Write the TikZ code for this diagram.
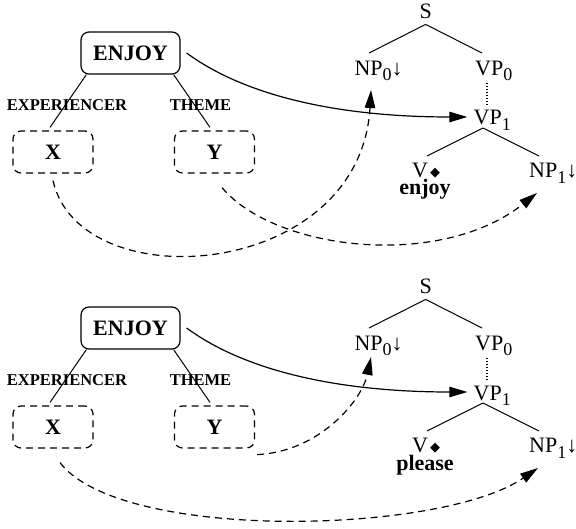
\documentclass[tikz,border=0pt]{standalone}
\usepackage{fontspec}
\setmainfont{Liberation Serif}
\newfontfamily\symfont{DejaVu Sans}
\usetikzlibrary{arrows.meta,calc}

% lowered index digit on a category label
\newcommand\lowidx[1]{\raisebox{-5.5pt}{\fontsize{18}{18}\selectfont #1}}
% anchor marker after the V label
\newcommand\anchormark{\raisebox{1.5pt}{\symfont\fontsize{13}{13}\selectfont ◆}}

\tikzset{
  concept/.style={draw, rounded corners=8pt, line width=1.2pt,
    minimum width=99pt, minimum height=42pt, inner sep=0pt,
    font=\fontsize{22}{26}\selectfont\bfseries},
  slot/.style={concept, dash pattern=on 7pt off 5pt, minimum width=80pt},
  role/.style={inner sep=0pt, font=\fontsize{16.5}{18}\selectfont\bfseries},
  cat/.style={anchor=base west, inner sep=0pt, font=\fontsize{22}{24}\selectfont},
  lexeme/.style={anchor=base, inner sep=0pt, font=\fontsize{22}{24}\selectfont\bfseries},
  branch/.style={line width=1pt},
  link/.style={line width=1.2pt, -{Triangle[length=18pt,width=10.5pt]}},
  maplink/.style={link, dash pattern=on 7pt off 5pt},
}

% semantic frame on the left, elementary tree on the right
% #1: name prefix, #2: anchor word
\newcommand\entrypair[2]{%
  \node[concept] (#1enjoy) at (130.5,53) {ENJOY};
  \node[role] (#1exp) at (67,105.5) {EXPERIENCER};
  \node[role] (#1theme) at (200.5,105.5) {THEME};
  \node[slot] (#1x) at (53,152) {X};
  \node[slot] (#1y) at (214.5,152) {Y};
  \draw[branch] ($(#1enjoy.south west)+(6,0)$) -- ($(#1x.north)+(-3,-3)$);
  \draw[branch] ($(#1enjoy.south east)+(-7,0)$) -- ($(#1y.north)+(-4.5,-3)$);
  \node[cat] (#1S) at (419.3,18.3) {S};
  \node[cat] (#1NPa) at (354.3,75.5) {NP\lowidx{0}↓};
  \node[cat] (#1VPa) at (475,75.5) {VP\lowidx{0}};
  \node[cat] (#1VPb) at (473.5,125) {VP\lowidx{1}};
  \node[cat] (#1V) at (412,178) {V\hspace{2pt}\anchormark};
  \node[lexeme] (#1lex) at (425,195) {#2};
  \node[cat] (#1NPb) at (529,178) {NP\lowidx{1}↓};
  \draw[branch] ($(#1S.south)+(0,5.7)$) -- ($(#1NPa.base west)+(14.7,-22.5)$);
  \draw[branch] ($(#1S.south)+(0,5.7)$) -- ($(#1VPa.base west)+(7,-22.5)$);
  \draw[branch, line width=1.2pt, dash pattern=on 1.5pt off 1.5pt]
    ($(#1VPa.base west)+(12,7.5)$) -- ($(#1VPb.base west)+(13.5,-20)$);
  \draw[branch] ($(#1VPb.base west)+(9.5,3)$) -- ($(#1V.base west)+(15,-22)$);
  \draw[branch] ($(#1VPb.base west)+(9.5,3)$) -- ($(#1NPb.base west)+(10,-22)$);
}

\begin{document}
\begin{tikzpicture}[x=1pt,y=-1pt]
  \useasboundingbox (0,0) rectangle (576,529);

  \begin{scope}
    \entrypair{t}{enjoy}
  \end{scope}
  \begin{scope}[shift={(0,275)}]
    \entrypair{b}{please}
  \end{scope}

  % enjoy: frame head to VP, experiencer to subject, theme to object
  \draw[link] ($(tenjoy.east)+(6,0)$) .. controls +(64,47) and +(-117,0) ..
    ($(tVPb.base west)+(-6.2,-8)$);
  \draw[maplink] ($(tx.south)+(0,7)$) .. controls +(27,120) and +(-11,190) ..
    ($(tNPa.base west)+(16.7,14.5)$);
  \draw[maplink] ($(ty.south)+(7.5,14)$) .. controls +(53,63) and +(-97,77) ..
    ($(tNPb.base west)+(8,15)$);

  % please: theme to subject, experiencer to object
  \draw[link] ($(benjoy.east)+(6,0)$) .. controls +(64,47) and +(-117,0) ..
    ($(bVPb.base west)+(-6.2,-8)$);
  \draw[maplink] ($(by.south east)+(2,6)$) .. controls +(63,-3) and +(-9,43) ..
    ($(bNPa.base west)+(16.7,6.5)$);
  \draw[maplink] ($(bx.south)+(7,14)$) .. controls +(60,79) and +(-98,67) ..
    ($(bNPb.base west)+(9,15)$);
\end{tikzpicture}
\end{document}
